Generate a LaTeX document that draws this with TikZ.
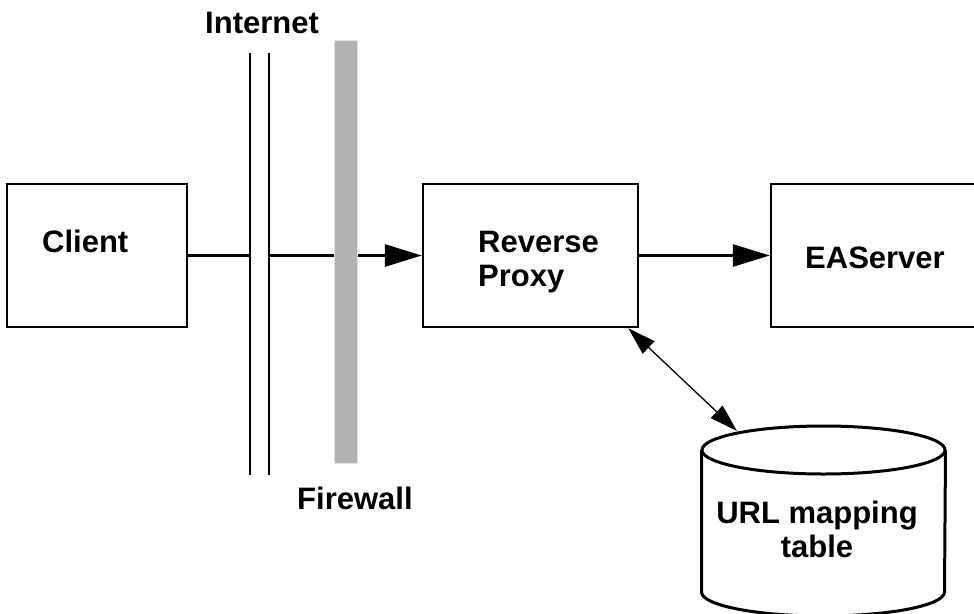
\documentclass[tikz,border=0pt]{standalone}
\usepackage{fontspec}
\setmainfont{Liberation Sans}
\usetikzlibrary{arrows.meta}

\begin{document}
\begin{tikzpicture}[x=1pt,y=-1pt]
\tikzset{box/.style={draw, line width=2.5pt, minimum height=143pt, inner sep=0pt},
  lbl/.style={font=\fontsize{31}{34}\selectfont\bfseries, inner sep=0pt},
  wire/.style={line width=3pt},
  flow/.style={wire, -{Triangle[length=37pt,width=22pt]}},
  lookup/.style={line width=1.3pt, {Triangle[length=28pt,width=17pt]}-{Triangle[length=28pt,width=17pt]}},
  wall/.style={draw=black!12, fill=black!30, line width=1pt, minimum width=23pt, minimum height=423pt, inner sep=0pt}}
\useasboundingbox (0,0) rectangle (974,613);
\clip (0,0) rectangle (974,613);
% boxes
\node[box, minimum width=180pt] (client) at (97,255.5) {};
\node[box, minimum width=215pt] (proxy) at (530.5,255.5) {};
\node[box, minimum width=215pt] (eas) at (878.5,255.5) {};
\node[lbl, anchor=base west] (clientlbl) at (42,252) {Client};
\node[lbl, anchor=base west, align=left] (proxylbl) at (478,286) {Reverse\\Proxy};
\node[lbl, anchor=base west] (easlbl) at (805,268) {EAServer};
% internet
\coordinate (inetA) at (250,53);
\coordinate (inetAend) at (250,475);
\coordinate (inetB) at (269,53);
\coordinate (inetBend) at (269,475);
\draw[line width=2pt] (inetA) -- (inetAend);
\draw[line width=2pt] (inetB) -- (inetBend);
\node[lbl, anchor=base west] (inetlbl) at (205,33) {Internet};
% connectors
\draw[wire] (client.east) -- (client.east -| inetA);
\draw[flow] (client.east -| inetB) -- (proxy.west);
\draw[flow] (proxy) -- (eas);
% firewall
\node[wall] (fw) at (345.5,251.5) {};
\node[lbl, anchor=base west] (fwlbl) at (297,509) {Firewall};
% url table (cylinder)
\draw[wire] (701.5,450) -- (701.5,592) arc[start angle=180, end angle=0, x radius=121.5, y radius=24] -- (945.5,450);
\draw[wire] (823.5,450) ellipse [x radius=121.5, y radius=24];
\coordinate (urltop) at (737,431);
\node[lbl, anchor=base, align=center] (urllbl) at (817,557) {URL mapping\\table};
\draw[lookup] ([xshift=-11pt]proxy.south east) -- (urltop);
\end{tikzpicture}
\end{document}
